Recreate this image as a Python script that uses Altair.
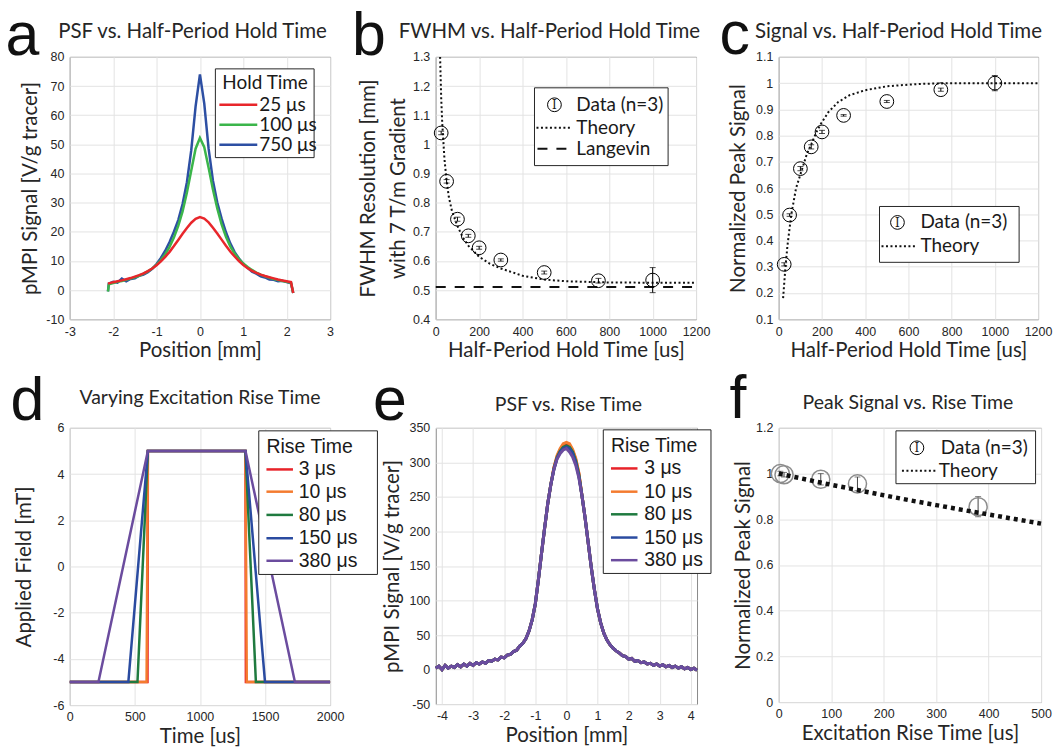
import altair as alt
import pandas as pd

INK = "#262626"
GRID = "#e3e3e3"

# ---------------- panel a : PSF vs hold time ----------------
a_pos = [-2.12, -2.1, -2.0, -1.9, -1.8, -1.7, -1.6, -1.5, -1.4, -1.3, -1.2, -1.1,
         -1.0, -0.9, -0.8, -0.7, -0.6, -0.5, -0.4, -0.3, -0.2, -0.1, 0.0,
         0.1, 0.2, 0.3, 0.4, 0.5, 0.6, 0.7, 0.8, 0.9, 1.0,
         1.1, 1.2, 1.3, 1.4, 1.5, 1.6, 1.7, 1.8, 1.9, 2.0, 2.1, 2.15]
a_25 = [2.2, 2.3, 2.7, 3.0, 3.3, 3.7, 4.1, 4.6, 5.1, 5.7, 6.5, 7.4,
        8.5, 9.8, 11.4, 13.1, 15.1, 17.2, 19.3, 21.3, 23.1, 24.4, 25.0,
        24.5, 23.2, 21.4, 19.4, 17.3, 15.2, 13.2, 11.5, 9.9, 8.6,
        7.5, 6.6, 5.9, 5.3, 4.8, 4.4, 4.0, 3.6, 3.3, 3.0, 2.7, -1.0]
a_100 = [-0.5, 2.0, 2.4, 2.8, 3.1, 3.5, 3.9, 4.4, 4.9, 5.6, 6.4, 7.4,
         8.7, 10.3, 12.3, 14.8, 18.0, 22.0, 27.0, 33.5, 41.0, 48.5, 52.2,
         49.0, 42.0, 34.5, 28.0, 22.5, 18.3, 15.0, 12.5, 10.6, 9.1,
         7.9, 6.9, 6.0, 5.3, 4.7, 4.2, 3.8, 3.4, 3.1, 2.8, 2.5, -1.0]
a_750 = [-0.5, 2.2, 2.8, 2.5, 3.9, 3.0, 3.8, 4.0, 4.9, 5.3, 6.1, 7.3,
         8.9, 11.0, 13.5, 16.5, 20.0, 24.0, 29.5, 37.0, 48.0, 63.0, 74.0,
         64.0, 48.5, 37.5, 30.0, 24.5, 19.8, 16.0, 13.0, 10.8, 9.0,
         7.6, 6.3, 5.6, 4.7, 4.3, 3.6, 3.5, 3.0, 3.2, 2.7, 2.3, -1.0]
a_names = ["25 μs", "100 μs", "750 μs"]
a_colors = ["#e8262b", "#3bb54a", "#2d4fa3"]

# ---------------- panel b : FWHM vs hold time ----------------
b_hold = [25, 50, 100, 150, 200, 300, 500, 750, 1000]
b_fwhm = [1.039, 0.873, 0.743, 0.686, 0.645, 0.603, 0.560, 0.532, 0.534]
b_err = [0.006, 0.006, 0.007, 0.005, 0.005, 0.004, 0.005, 0.008, 0.043]
b_theory_t = [20, 25, 30, 40, 50, 60, 75, 100, 125, 150, 200, 250, 300, 400, 500, 600, 800, 1000, 1200]
b_theory = [1.30, 1.16, 1.07, 0.95, 0.875, 0.82, 0.77, 0.72, 0.68, 0.652, 0.614, 0.59, 0.574,
            0.549, 0.536, 0.530, 0.526, 0.525, 0.525]
b_langevin_t = [0, 1200]
b_langevin = [0.51, 0.51]

# ---------------- panel c : signal vs hold time ----------------
c_hold = [25, 50, 100, 150, 200, 300, 500, 750, 1000]
c_signal = [0.309, 0.497, 0.674, 0.757, 0.814, 0.877, 0.930, 0.975, 1.0]
c_err = [0.006, 0.005, 0.008, 0.008, 0.006, 0.003, 0.004, 0.006, 0.029]
c_theory_t = [20, 30, 40, 58, 80, 107, 130, 152, 175, 195, 230, 275, 330, 400, 500, 650, 800, 1000, 1200]
c_theory = [0.18, 0.29, 0.38, 0.50, 0.60, 0.67, 0.73, 0.77, 0.815, 0.845, 0.89, 0.928, 0.955,
            0.973, 0.988, 0.997, 1.0, 1.0, 1.0]

# ---------------- panel d : excitation waveforms ----------------
d_names = ["3 μs", "10 μs", "80 μs", "150 μs", "380 μs"]
d_colors = ["#e8232a", "#f47b2f", "#1f7a3f", "#2a4ba0", "#6b4c9e"]
d_t_3 = [0, 597, 600, 1350, 1353, 2000]
d_t_10 = [0, 590, 600, 1350, 1360, 2000]
d_t_80 = [0, 520, 600, 1350, 1430, 2000]
d_t_150 = [0, 450, 600, 1350, 1500, 2000]
d_t_380 = [0, 220, 600, 1350, 1730, 2000]
d_field = [-5, -5, 5, 5, -5, -5]

# ---------------- panel e : PSF vs rise time ----------------
e_pos = [-4.2, -4.1, -4.0, -3.9, -3.8, -3.7, -3.6, -3.5, -3.4, -3.3,
         -3.2, -3.1, -3.0, -2.9, -2.8, -2.7, -2.6, -2.5, -2.4, -2.3,
         -2.2, -2.1, -2.0, -1.9, -1.8, -1.7, -1.6, -1.5, -1.4, -1.3,
         -1.2, -1.1, -1.0, -0.9, -0.8, -0.7, -0.6, -0.5, -0.4, -0.3,
         -0.2, -0.1, 0.0, 0.1, 0.2, 0.3, 0.4, 0.5, 0.6, 0.7,
         0.8, 0.9, 1.0, 1.1, 1.2, 1.3, 1.4, 1.5, 1.6, 1.7,
         1.8, 1.9, 2.0, 2.1, 2.2, 2.3, 2.4, 2.5, 2.6, 2.7,
         2.8, 2.9, 3.0, 3.1, 3.2, 3.3, 3.4, 3.5, 3.6, 3.7,
         3.8, 3.9, 4.0, 4.1, 4.2]
e_380 = [2, 5, 0, 6, 2, 5, 3, 7, 4, 8,
         5, 9, 6, 10, 8, 11, 9, 13, 12, 15,
         14, 18, 17, 21, 22, 26, 28, 34, 38, 45,
         56, 72, 95, 130, 168, 205, 240, 268, 290, 305,
         313, 318, 320, 315, 308, 296, 278, 252, 220, 184,
         148, 116, 88, 68, 53, 43, 36, 31, 27, 24,
         20, 19, 15, 16, 12, 13, 10, 11, 8, 9,
         6, 8, 5, 7, 4, 6, 3, 5, 2, 4,
         1, 3, 0, 2, -1]
# peak region (x = -0.4 ... 0.4) of the other rise times
e_pk_3 = [292, 308, 318, 324, 326, 324, 317, 304, 284]
e_pk_10 = [293, 310, 320, 327, 329, 327, 319, 306, 285]
e_pk_80 = [291, 307, 316, 322, 324, 322, 315, 302, 282]
e_pk_150 = [290, 306, 315, 320, 322, 320, 313, 300, 280]

# ---------------- panel f : peak signal vs rise time ----------------
f_rise = [3, 10, 80, 150, 380]
f_signal = [1.0, 0.995, 0.975, 0.955, 0.855]
f_err = [0.01, 0.01, 0.025, 0.03, 0.044]
f_theory_t = [0, 50, 100, 150, 200, 250, 300, 350, 400, 450, 500]
f_theory = [1.0, 0.975, 0.951, 0.928, 0.905, 0.883, 0.862, 0.841, 0.821, 0.801, 0.781]

# ================= helpers =================
one = pd.DataFrame({"k": [0]})


def axis(values, title, label_pad, title_pad, line_height=None, title_size=20.5):
    kw = dict(values=values, title=title, format=".6~g", grid=True, gridColor=GRID,
              gridWidth=1, ticks=False, domain=False, labelFlush=False,
              labelOverlap=False, labelFont="Liberation Sans", labelFontSize=12.5,
              labelColor=INK, labelPadding=label_pad, titleFont="Lato",
              labelExpr="replace(datum.label, '\u2212', '-')",
              titleFontSize=title_size, titleFontWeight="normal", titleColor=INK,
              titlePadding=title_pad)
    if line_height is not None:
        kw["titleLineHeight"] = line_height
    return alt.Axis(**kw)


def sc(lo, hi):
    return alt.Scale(domain=[lo, hi], nice=False, zero=False)


def box(x0, y0, x1, y1):
    return alt.Chart(one).mark_rect(fill="white", stroke=INK, strokeWidth=1).encode(
        x=alt.value(x0), x2=alt.value(x1), y=alt.value(y0), y2=alt.value(y1))


def txt(s, x, y, size=19, font="Lato", align="left", baseline="middle", color="#1a1a1a"):
    return alt.Chart(one).mark_text(text=s, font=font, fontSize=size, align=align,
                                    baseline=baseline, color=color).encode(
        x=alt.value(x), y=alt.value(y))


def seg(x0, x1, y, color, width=2.5, dash=None):
    kw = dict(color=color, strokeWidth=width, strokeCap="butt")
    if dash is not None:
        kw["strokeDash"] = dash
    return alt.Chart(one).mark_rule(**kw).encode(x=alt.value(x0), x2=alt.value(x1), y=alt.value(y))


def ring(x, y, size=190, color="black"):
    return alt.Chart(one).mark_point(shape="circle", size=size, filled=False, color=color,
                                     strokeWidth=1, opacity=1).encode(x=alt.value(x), y=alt.value(y))


def letter(s, x, y):
    return txt(s, x, y, size=61, font="Liberation Sans", baseline="alphabetic", color="#111111")


def heading(s, x, y, size):
    return txt(s, x, y, size=size, font="Lato", align="center", baseline="alphabetic", color=INK)


def finish(layers, w, h, stroke):
    return alt.layer(*layers).properties(
        width=w, height=h, view=alt.ViewBackground(stroke=stroke, strokeWidth=1))


def data_points(t, v, err, X, Y, size=190, color="black", bar_color="black", sw=1):
    df = pd.DataFrame({"t": t, "v": v})
    bars = pd.DataFrame({"t": t, "v": [a - e for a, e in zip(v, err)],
                         "v2": [a + e for a, e in zip(v, err)]})
    caps = pd.DataFrame({"t": t + t, "v": [a - e for a, e in zip(v, err)] + [a + e for a, e in zip(v, err)]})
    return [
        alt.Chart(bars).mark_rule(color=bar_color, strokeWidth=1).encode(x=X, y=Y, y2=alt.Y2("v2:Q")),
        alt.Chart(caps).mark_tick(orient="horizontal", size=6, thickness=1, color=bar_color).encode(x=X, y=Y),
        alt.Chart(df).mark_point(shape="circle", size=size, filled=False, color=color,
                                 strokeWidth=sw, opacity=1).encode(x=X, y=Y),
    ]


def data_symbol(x, y):
    return [ring(x, y, size=190), txt("I", x, y + 0.5, size=12, font="DejaVu Serif", align="center")]


def line_layer(t, v, X, Y, color, width, dash=None):
    kw = dict(color=color, strokeWidth=width)
    if dash is not None:
        kw["strokeDash"] = dash
        kw["strokeCap"] = "butt"
    return alt.Chart(pd.DataFrame({"t": t, "v": v})).mark_line(**kw).encode(x=X, y=Y)


# ================= panel a =================
aX = alt.X("t:Q", scale=sc(-3, 3), axis=axis([-3, -2, -1, 0, 1, 2, 3], "Position [mm]", 6, 3))
aY = alt.Y("v:Q", scale=sc(-10, 80), axis=axis(list(range(-10, 81, 10)), "pMPI Signal [V/g tracer]", 6, 5))
a_layers = [
    line_layer(a_pos, a_750, aX, aY, a_colors[2], 2.5),
    line_layer(a_pos, a_100, aX, aY, a_colors[1], 2.5),
    line_layer(a_pos, a_25, aX, aY, a_colors[0], 2.5),
    box(146, 12, 245, 101),
    txt("Hold Time", 153, 26),
]
for i, (nm, col) in enumerate(zip(a_names, a_colors)):
    yy = [48, 68, 88][i]
    a_layers += [seg(150, 188, yy, col, 2.5), txt(nm, 190, yy)]
a_layers += [letter("a", -64.5, -2), heading("PSF vs. Half-Period Hold Time", 123, -19, 20.5)]
panel_a = finish(a_layers, 261, 263, INK)

# ================= panel b =================
bX = alt.X("t:Q", scale=sc(0, 1200), axis=axis(list(range(0, 1201, 200)), "Half-Period Hold Time [us]", 6, 3))
bY = alt.Y("v:Q", scale=sc(0.4, 1.3),
           axis=axis([0.4, 0.5, 0.6, 0.7, 0.8, 0.9, 1.0, 1.1, 1.2, 1.3],
                     ["FWHM Resolution [mm]", "with 7 T/m Gradient"], 6, 4, line_height=30))
b_layers = [
    line_layer(b_langevin_t, b_langevin, bX, bY, "#111111", 2, [10, 9]),
    line_layer(b_theory_t, b_theory, bX, bY, "#111111", 2, [2, 2.5]),
] + data_points(b_hold, b_fwhm, b_err, bX, bY)
b_layers += [box(99, 31, 233, 109)] + data_symbol(119, 48) + [
    txt("Data (n=3)", 141, 48),
    seg(101, 137, 71, "#111111", 2, [2, 2.5]), txt("Theory", 141, 71),
    seg(102, 131, 92, "#111111", 2, [10, 9]), txt("Langevin", 141, 92),
    letter("b", -84, -2),
    heading("FWHM vs. Half-Period Hold Time", 114, -19, 20.5),
]
panel_b = finish(b_layers, 261, 263, INK)

# ================= panel c =================
cX = alt.X("t:Q", scale=sc(0, 1200), axis=axis(list(range(0, 1201, 200)), "Half-Period Hold Time [us]", 6, 3))
cY = alt.Y("v:Q", scale=sc(0.1, 1.1),
           axis=axis([0.1, 0.2, 0.3, 0.4, 0.5, 0.6, 0.7, 0.8, 0.9, 1.0, 1.1], "Normalized Peak Signal", 6, 7))
c_layers = [line_layer(c_theory_t, c_theory, cX, cY, "#111111", 2, [2, 2.5])] + \
    data_points(c_hold, c_signal, c_err, cX, cY)
c_layers += [box(101, 150, 241, 206)] + data_symbol(119, 166) + [
    txt("Data (n=3)", 142, 166),
    seg(103, 138, 190, "#111111", 2, [2, 2.5]), txt("Theory", 142, 190),
    letter("c", -59.5, -3),
    heading("Signal vs. Half-Period Hold Time", 120, -19, 20.5),
]
panel_c = finish(c_layers, 260, 263, INK)

# ================= panel d =================
dX = alt.X("t:Q", scale=sc(0, 2000), axis=axis([0, 500, 1000, 1500, 2000], "Time [us]", 5, 4))
dY = alt.Y("v:Q", scale=sc(-6, 6), axis=axis([-6, -4, -2, 0, 2, 4, 6], "Applied Field [mT]", 6, 18))
d_layers = [line_layer(t, d_field, dX, dY, col, 2.5)
            for t, col in zip([d_t_3, d_t_10, d_t_80, d_t_150, d_t_380], d_colors)]
d_layers += [box(189.5, 3, 308.5, 147), txt("Rise Time", 197.2, 19, size=19.5, font="Liberation Sans")]
for i, (nm, col) in enumerate(zip(d_names, d_colors)):
    yy = [41.7, 64, 87.3, 110.7, 133.3][i]
    d_layers += [seg(197.2, 223.8, yy, col, 2.5), txt(nm, 229.5, yy, size=19.5, font="Liberation Sans")]
d_layers += [letter("d", -59.5, -8), heading("Varying Excitation Rise Time", 130.5, -24, 19.5)]
panel_d = finish(d_layers, 261, 278, "#8a8a8a")

# ================= panel e =================
eX = alt.X("t:Q", scale=sc(-4.2, 4.2), axis=axis([-4, -3, -2, -1, 0, 1, 2, 3, 4], "Position [mm]", 5, 4))
eY = alt.Y("v:Q", scale=sc(-50, 350), axis=axis(list(range(-50, 351, 50)), "pMPI Signal [V/g tracer]", 6, 7))
e_series = [e_380[:38] + pk + e_380[47:] for pk in [e_pk_3, e_pk_10, e_pk_80, e_pk_150]] + [e_380]
e_layers = [line_layer(e_pos, vals, eX, eY, col, 3) for vals, col in zip(e_series, d_colors)]
e_layers += [box(168, 2, 276, 146), txt("Rise Time", 175.7, 18, size=19.5, font="Liberation Sans")]
for i, (nm, col) in enumerate(zip(d_names, d_colors)):
    yy = [40.7, 64, 86.7, 110, 132.7][i]
    e_layers += [seg(175.7, 202.3, yy, col, 2.5), txt(nm, 209, yy, size=19.5, font="Liberation Sans")]
e_layers += [letter("e", -63, -8), heading("PSF vs. Rise Time", 133, -17, 19.5)]
panel_e = finish(e_layers, 262, 277, "#8a8a8a")

# ================= panel f =================
fX = alt.X("t:Q", scale=sc(0, 500), axis=axis([0, 100, 200, 300, 400, 500], "Excitation Rise Time [us]", 5, 4))
fY = alt.Y("v:Q", scale=sc(0, 1.2), axis=axis([0, 0.2, 0.4, 0.6, 0.8, 1.0, 1.2], "Normalized Peak Signal", 6, 2))
f_layers = data_points(f_rise, f_signal, f_err, fX, fY, size=330, color="#8c8c8c",
                       bar_color="#444444", sw=1.5)
f_layers.append(line_layer(f_theory_t, f_theory, fX, fY, "#111111", 4.5, [4, 4]))
f_layers += [box(117.5, 3, 257.5, 56)] + data_symbol(138.5, 20) + [
    txt("Data (n=3)", 162.5, 20),
    seg(123.5, 157.5, 43, "#111111", 2, [2, 2.5]), txt("Theory", 160.5, 43),
    letter("f", -49.5, -10),
    heading("Peak Signal vs. Rise Time", 129.5, -19, 19.5),
]
panel_f = finish(f_layers, 263, 275, "#8a8a8a")


# ================= layout =================
def spacer(w):
    return alt.Chart(one).mark_point(opacity=0).encode(
        x=alt.value(0), y=alt.value(0)).properties(
        width=w, height=10, view=alt.ViewBackground(strokeOpacity=0))


chart = alt.concat(
    spacer(1), panel_a, spacer(105.5), panel_b, spacer(81.5), panel_c,
    spacer(1), panel_d, spacer(105.5), panel_e, spacer(81.5), panel_f,
    columns=6, spacing={"row": 109, "column": 0}, bounds="flush",
).properties(
    padding={"left": 5, "top": 3, "right": 5, "bottom": 5}
).configure(background="white").configure_view(stroke=INK)

chart.save("out.html", embed_options={"renderer": "svg", "actions": False})
